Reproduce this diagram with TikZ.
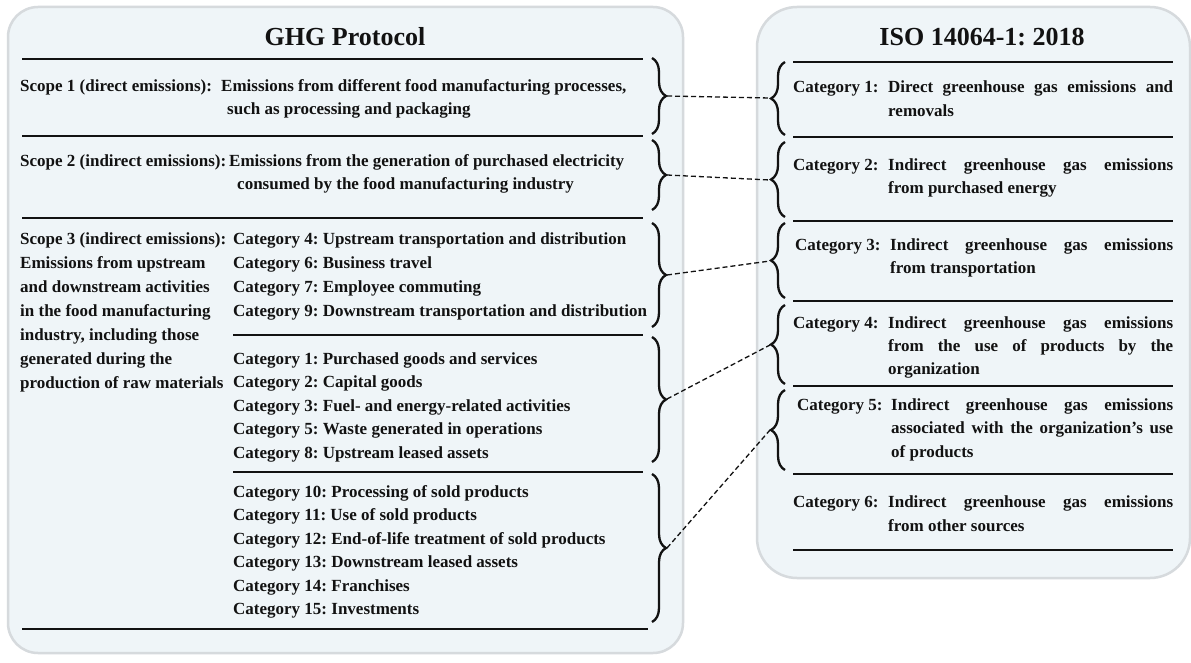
\documentclass[tikz,border=0pt]{standalone}
\usepackage{fontspec}
\setmainfont{Liberation Serif}
\usetikzlibrary{decorations.pathreplacing}
\definecolor{panelfill}{RGB}{239,245,248}
\definecolor{panelline}{RGB}{214,218,221}
\definecolor{ink}{RGB}{18,18,18}
\begin{document}
\frenchspacing
\begin{tikzpicture}[x=1pt,y=-1pt,
  panel/.style={draw=panelline, line width=2.5pt, fill=panelfill},
  txt/.style={anchor=base west, inner sep=0pt, font=\fontsize{17}{20}\selectfont\bfseries\frenchspacing, text=ink},
  ttl/.style={inner sep=0pt, font=\fontsize{26}{30}\selectfont\bfseries\frenchspacing, text=ink},
  thickrule/.style={line width=2.6pt, draw=ink},
  thinrule/.style={line width=1.4pt, draw=ink},
  bracebig/.style={decorate, decoration={brace, amplitude=14pt}, line width=2.3pt, draw=ink},
  link/.style={dash pattern=on 5pt off 3pt, line width=1.3pt, draw=ink}]
\useasboundingbox (0,0) rectangle (1191,663);
\fill[white] (0,0) rectangle (1191,663);
% panels
\draw[panel, rounded corners=30pt] (8,7) rectangle (683,653);
\draw[panel, rounded corners=40pt] (757,7) rectangle (1190,578);
% titles
\node[ttl] (ghg) at (345,37) {GHG Protocol};
\node[ttl] (iso) at (982,37) {ISO 14064-1: 2018};
% left rules
\draw[thickrule] (22,59) -- (643,59);
\draw[thinrule] (22,136) -- (643,136);
\draw[thinrule] (22,218) -- (643,218);
\draw[thinrule] (233,335) -- (643,335);
\draw[thinrule] (233,472) -- (643,472);
\draw[thickrule] (22,629) -- (648,629);
% right rules
\draw[thickrule] (793,62) -- (1173,62);
\foreach \yy in {137,221,301,386,474} \draw[thinrule] (793,\yy) -- (1173,\yy);
\draw[thickrule] (793,550) -- (1173,550);
% scope 1 and 2
\node[txt] (s1) at (20,92) {Scope 1 (direct emissions):};
\node[txt] (s1a) at (221,92) {Emissions from different food manufacturing processes,};
\node[txt] (s1b) at (227,115) {such as processing and packaging};
\node[txt] (s2) at (20,167) {Scope 2 (indirect emissions):};
\node[txt] (s2a) at (229,167) {Emissions from the generation of purchased electricity};
\node[txt] (s2b) at (237,190) {consumed by the food manufacturing industry};
% scope 3
\foreach \t [count=\i] in {Scope 3 (indirect emissions):, Emissions from upstream, and downstream activities, in the food manufacturing, {industry, including those}, generated during the, production of raw materials}
  \node[txt] (s3-\i) at (20,{244+(\i-1)*24}) {\t};
\foreach \t [count=\i] in {Category 4: Upstream transportation and distribution, Category 6: Business travel, Category 7: Employee commuting, Category 9: Downstream transportation and distribution}
  \node[txt] (ca-\i) at (233,{244+(\i-1)*24}) {\t};
\foreach \t [count=\i] in {Category 1: Purchased goods and services, Category 2: Capital goods, Category 3: Fuel- and energy-related activities, Category 5: Waste generated in operations, Category 8: Upstream leased assets}
  \node[txt] (cb-\i) at (233,{364+(\i-1)*23.5}) {\t};
\foreach \t [count=\i] in {Category 10: Processing of sold products, Category 11: Use of sold products, Category 12: End-of-life treatment of sold products, Category 13: Downstream leased assets, Category 14: Franchises, Category 15: Investments}
  \node[txt] (cc-\i) at (233,{497+(\i-1)*23.5}) {\t};
% right categories
\node[txt] (r1) at (793,93) {Category 1:};
\node[txt] (r1a) at (888,93) {\makebox[285pt][s]{Direct greenhouse gas emissions and}};
\node[txt] (r1b) at (888,117) {removals};
\node[txt] (r2) at (793,171) {Category 2:};
\node[txt] (r2a) at (888,171) {\makebox[285pt][s]{Indirect greenhouse gas emissions}};
\node[txt] (r2b) at (888,194) {from purchased energy};
\node[txt] (r3) at (795,251) {Category 3:};
\node[txt] (r3a) at (890,251) {\makebox[283pt][s]{Indirect greenhouse gas emissions}};
\node[txt] (r3b) at (890,273) {from transportation};
\node[txt] (r4) at (793,328) {Category 4:};
\node[txt] (r4a) at (888,328) {\makebox[285pt][s]{Indirect greenhouse gas emissions}};
\node[txt] (r4b) at (888,351) {\makebox[285pt][s]{from the use of products by the}};
\node[txt] (r4c) at (888,374) {organization};
\node[txt] (r5) at (797,410) {Category 5:};
\node[txt] (r5a) at (891,410) {\makebox[282pt][s]{Indirect greenhouse gas emissions}};
\node[txt] (r5b) at (891,433) {\makebox[282pt][s]{associated with the organization’s use}};
\node[txt] (r5c) at (891,457) {of products};
\node[txt] (r6) at (793,507) {Category 6:};
\node[txt] (r6a) at (888,507) {\makebox[285pt][s]{Indirect greenhouse gas emissions}};
\node[txt] (r6b) at (888,531) {from other sources};
% left braces
\draw[bracebig] (652,58) -- (652,134);
\draw[bracebig] (652,140) -- (652,210);
\draw[bracebig] (652,223) -- (652,327);
\draw[bracebig] (652,337) -- (652,462);
\draw[bracebig] (652,474) -- (652,622);
\coordinate (L1) at (667,96);
\coordinate (L2) at (667,175);
\coordinate (L3) at (667,275);
\coordinate (L4) at (667,399);
\coordinate (L5) at (667,548);
% right braces
\draw[bracebig] (785,135) -- (785,62);
\draw[bracebig] (785,217) -- (785,142);
\draw[bracebig] (785,298) -- (785,223);
\draw[bracebig] (785,384) -- (785,305);
\draw[bracebig] (785,470) -- (785,390);
\coordinate (R1) at (770,98);
\coordinate (R2) at (770,180);
\coordinate (R3) at (770,261);
\coordinate (R4) at (770,345);
\coordinate (R5) at (770,430);
% links
\draw[link] (L1) -- (R1);
\draw[link] (L2) -- (R2);
\draw[link] (L3) -- (R3);
\draw[link] (L4) -- (R4);
\draw[link] (L5) -- (R5);
\end{tikzpicture}
\end{document}
